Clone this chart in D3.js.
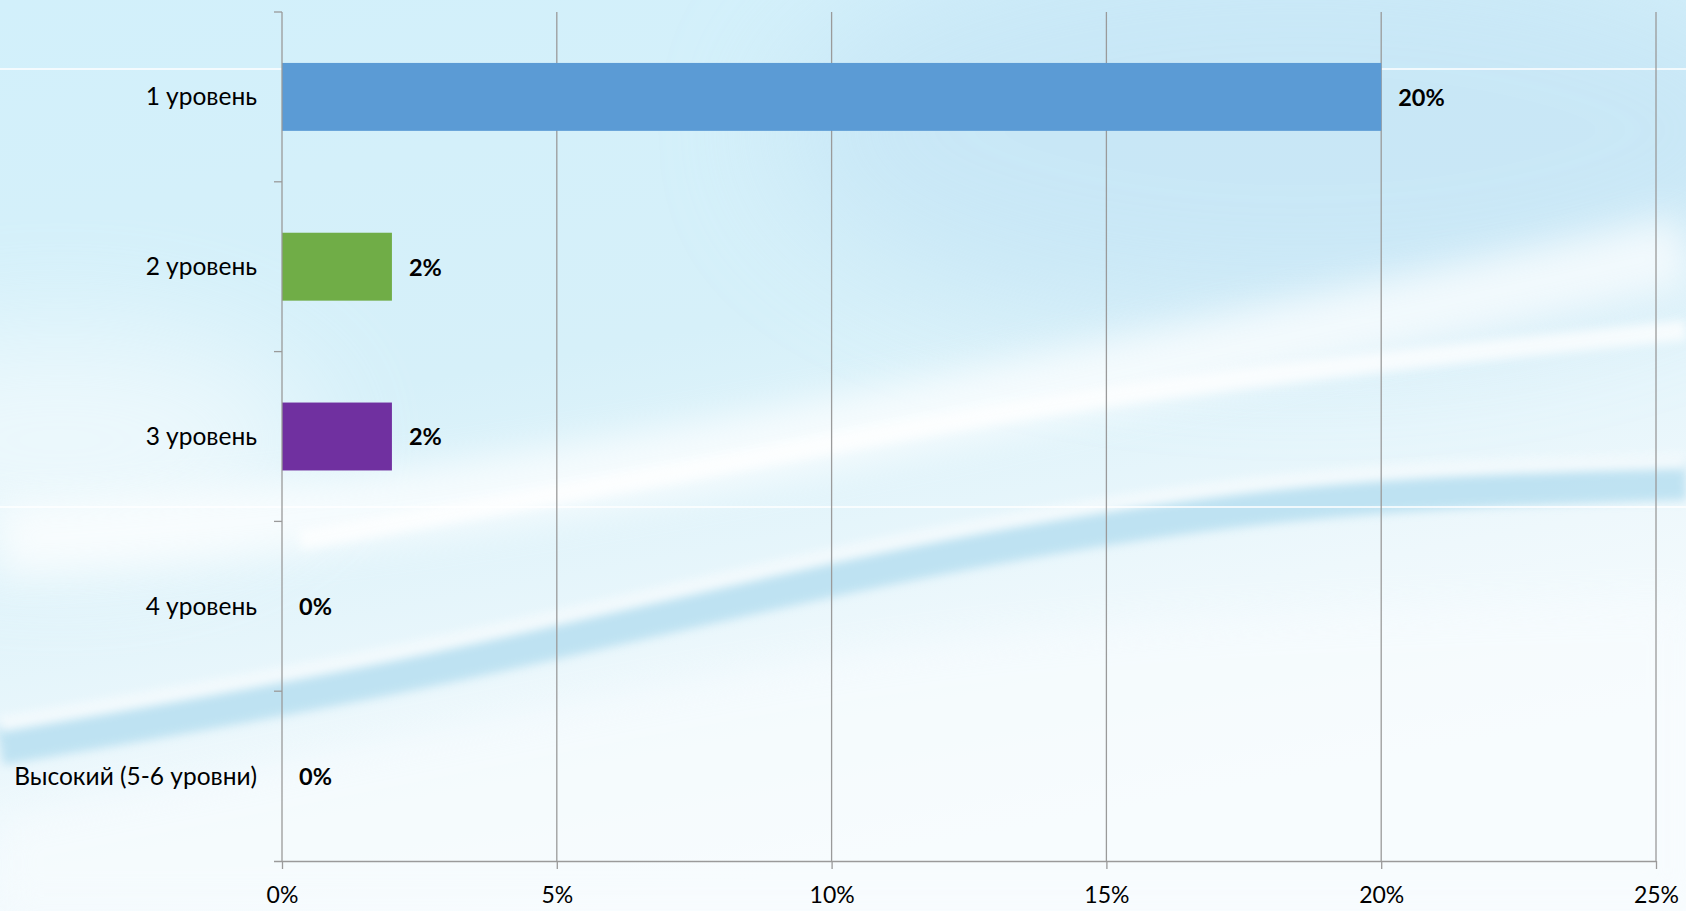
<!DOCTYPE html>
<html>
<head>
<meta charset="utf-8">
<script src="https://cdn.jsdelivr.net/npm/d3@7"></script>
<style>
  html, body { margin: 0; padding: 0; background: #fff; }
  svg { display: block; }
</style>
</head>
<body>
<svg id="chart" width="1686" height="911"></svg>
<script>
// data
const categories = ["1 уровень", "2 уровень", "3 уровень", "4 уровень", "Высокий (5-6 уровни)"];
const values = [20, 2, 2, 0, 0];
const barColors = ["#5B9BD5", "#70AD47", "#7030A0", "#A5A5A5", "#FFC000"];
const xTicks = [0, 5, 10, 15, 20, 25];

const svg = d3.select("#chart");
const W = 1686, H = 911;
const fontFam = "Lato, 'Open Sans', sans-serif";

// background (sky + light swooshes)
const defs = svg.append("defs");
const bg = defs.append("linearGradient").attr("id", "bg")
  .attr("x1", "0").attr("y1", "0").attr("x2", "0.35").attr("y2", "1");
bg.append("stop").attr("offset", "0").attr("stop-color", "#d2f0fb");
bg.append("stop").attr("offset", "0.45").attr("stop-color", "#d6f0f9");
bg.append("stop").attr("offset", "0.8").attr("stop-color", "#eef8fc");
bg.append("stop").attr("offset", "1").attr("stop-color", "#f8fcfe");

const blur = defs.append("filter").attr("id", "blur").attr("x", "-20%").attr("y", "-50%")
  .attr("width", "140%").attr("height", "200%");
blur.append("feGaussianBlur").attr("stdDeviation", 18);
const blurSm = defs.append("filter").attr("id", "blurSm").attr("x", "-20%").attr("y", "-50%")
  .attr("width", "140%").attr("height", "200%");
blurSm.append("feGaussianBlur").attr("stdDeviation", 5);
const blurBig = defs.append("filter").attr("id", "blurBig").attr("x", "-50%").attr("y", "-50%")
  .attr("width", "200%").attr("height", "200%");
blurBig.append("feGaussianBlur").attr("stdDeviation", 60);

svg.append("rect").attr("width", W).attr("height", H).attr("fill", "url(#bg)");

const bgLayer = svg.append("g");
const curve = d3.line().curve(d3.curveBasis);
// bluer sky top right
bgLayer.append("ellipse").attr("cx", 1300).attr("cy", 130).attr("rx", 520).attr("ry", 200)
  .attr("fill", "#bfe1f4").attr("opacity", 0.55).attr("filter", "url(#blurBig)");
// whitish haze at left middle
bgLayer.append("ellipse").attr("cx", 60).attr("cy", 440).attr("rx", 260).attr("ry", 110)
  .attr("fill", "#ffffff").attr("opacity", 0.55).attr("filter", "url(#blurBig)");
// white wide band
bgLayer.append("path")
  .attr("d", curve([[0, 540], [323, 520], [753, 452], [1183, 360], [1686, 250]]))
  .attr("fill", "none").attr("stroke", "#ffffff").attr("stroke-width", 70)
  .attr("opacity", 0.7).attr("filter", "url(#blur)");
bgLayer.append("path")
  .attr("d", curve([[300, 540], [700, 470], [1100, 390], [1686, 330]]))
  .attr("fill", "none").attr("stroke", "#ffffff").attr("stroke-width", 20)
  .attr("opacity", 0.75).attr("filter", "url(#blurSm)");
// lower blue tube
bgLayer.append("path")
  .attr("d", curve([[0, 745], [430, 672], [860, 565], [1290, 492], [1686, 480]]))
  .attr("fill", "none").attr("stroke", "#b0dcef").attr("stroke-width", 40)
  .attr("opacity", 0.75).attr("filter", "url(#blurSm)");
bgLayer.append("path")
  .attr("d", curve([[0, 725], [430, 652], [860, 545], [1290, 472], [1686, 462]]))
  .attr("fill", "none").attr("stroke", "#ffffff").attr("stroke-width", 14)
  .attr("opacity", 0.75).attr("filter", "url(#blurSm)");
// whitish lower area
bgLayer.append("path")
  .attr("d", curve([[0, 820], [500, 720], [1000, 620], [1686, 600]]) + "L1686,911L0,911Z")
  .attr("fill", "#f7fcfe").attr("opacity", 0.7).attr("filter", "url(#blur)");
// thin white horizontal lines
bgLayer.append("line").attr("x1", 0).attr("x2", W).attr("y1", 69).attr("y2", 69)
  .attr("stroke", "#ffffff").attr("stroke-width", 1.5);
bgLayer.append("line").attr("x1", 0).attr("x2", W).attr("y1", 507).attr("y2", 507)
  .attr("stroke", "#ffffff").attr("stroke-width", 1.5);

// scales
const x = d3.scaleLinear().domain([0, 25]).range([282, 1656]);
const yBand = d3.scaleBand().domain(categories).range([12, 861]).padding(0);
const yBar = d3.scaleBand().domain(categories).range([12, 861])
  .paddingInner(0.6).paddingOuter(0.3);

const axisColor = "#9a9a9a";

// vertical gridlines
svg.append("g").selectAll("line")
  .data(xTicks.slice(1))
  .join("line")
    .attr("x1", d => x(d)).attr("x2", d => x(d))
    .attr("y1", 12).attr("y2", 861)
    .attr("stroke", axisColor).attr("stroke-width", 1.3);

// bars
svg.append("g").selectAll("rect")
  .data(categories)
  .join("rect")
    .attr("x", x(0))
    .attr("y", d => yBar(d))
    .attr("width", (d, i) => x(values[i]) - x(0))
    .attr("height", yBar.bandwidth())
    .attr("fill", (d, i) => barColors[i]);

// data labels
svg.append("g").selectAll("text")
  .data(categories)
  .join("text")
    .attr("x", (d, i) => x(values[i]) + 17)
    .attr("y", d => yBar(d) + yBar.bandwidth() / 2)
    .attr("dy", "0.38em")
    .attr("font-family", fontFam)
    .attr("font-weight", "bold")
    .attr("font-size", 23.5)
    .attr("fill", "#000")
    .text((d, i) => values[i] + "%");

// x axis
const xAxis = svg.append("g")
  .attr("transform", "translate(0,861)")
  .call(d3.axisBottom(x).tickValues(xTicks).tickFormat(d => d + "%").tickSize(8).tickPadding(18));
xAxis.select(".domain").attr("stroke", axisColor).attr("stroke-width", 1.3)
  .attr("d", `M${x(0) - 8},0.5H${x(25)}`);
xAxis.selectAll(".tick line").attr("stroke", axisColor).attr("stroke-width", 1.3);
xAxis.selectAll(".tick text")
  .attr("font-family", fontFam).attr("font-size", 23).attr("fill", "#000");

// y axis (ticks at category boundaries)
const yAxis = svg.append("g").attr("transform", `translate(${x(0)},0)`);
yAxis.append("line")
  .attr("x1", 0).attr("x2", 0).attr("y1", 12).attr("y2", 861)
  .attr("stroke", axisColor).attr("stroke-width", 1.3);
const bounds = categories.map(d => yBand(d));
yAxis.selectAll("line.tick")
  .data(bounds)
  .join("line")
    .attr("class", "tick")
    .attr("x1", -8).attr("x2", 0)
    .attr("y1", d => d).attr("y2", d => d)
    .attr("stroke", axisColor).attr("stroke-width", 1.3);
yAxis.selectAll("text")
  .data(categories)
  .join("text")
    .attr("x", -25)
    .attr("y", d => yBand(d) + yBand.bandwidth() / 2)
    .attr("dy", "0.35em")
    .attr("text-anchor", "end")
    .attr("font-family", fontFam)
    .attr("font-size", 24.5)
    .attr("fill", "#000")
    .text(d => d);
</script>
</body>
</html>
